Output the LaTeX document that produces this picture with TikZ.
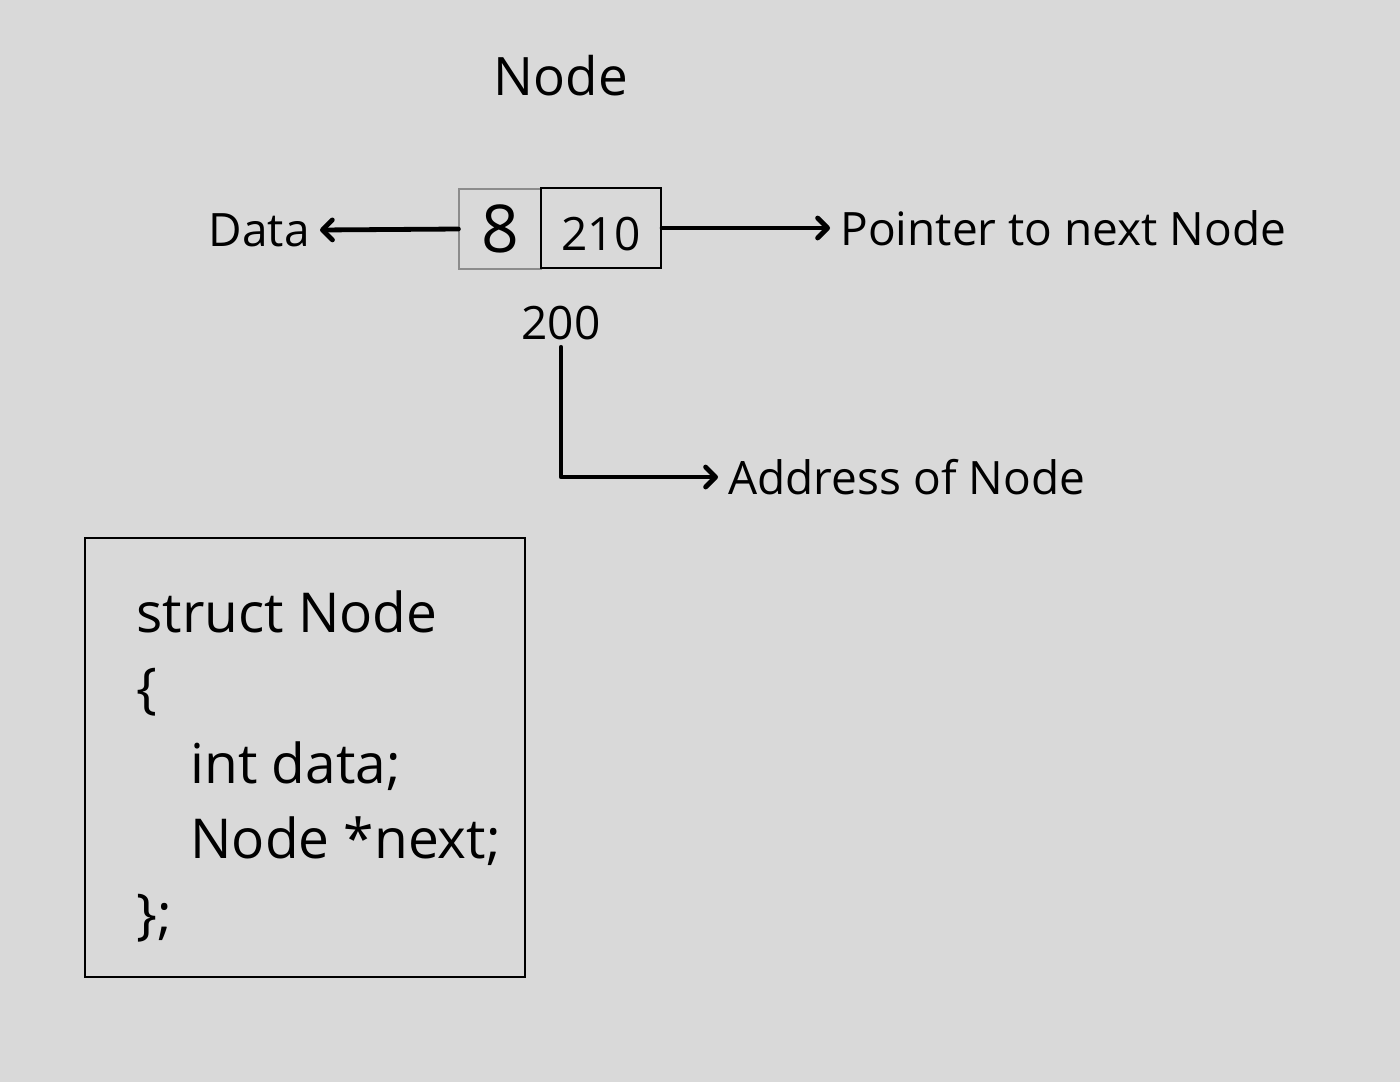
\documentclass[tikz,border=0pt]{standalone}
\usepackage{fontspec}
\setmainfont{Open Sans}
\usetikzlibrary{arrows.meta,positioning}
\definecolor{paper}{HTML}{D9D9D9}
\definecolor{ink}{HTML}{000000}
\definecolor{rim}{HTML}{8C8C8C}

\begin{document}
\begin{tikzpicture}[x=0.5pt,y=-0.5pt,
  lbl/.style={font=\fontsize{23}{27}\selectfont,color=ink,inner xsep=5pt,inner ysep=3.5pt},
  conn/.style={ink,line width=2.4pt,line cap=round,line join=round,
    -{Straight Barb[length=5pt,width=10pt,line cap=round,line join=round]}},
  cell/.style={inner sep=0pt,minimum height=40pt}]
  \fill[paper] (0,0) rectangle (1400,1082);
  \useasboundingbox (0,0) rectangle (1400,1082);

  % the node itself
  \node[font=\fontsize{26.5}{30}\selectfont] (title) at (561,76) {Node};
  \node[cell,draw=rim,line width=0.6pt,minimum width=41pt,font=\fontsize{33}{36}\selectfont] (val) at (500,229) {8};
  \node[cell,draw=ink,line width=1.1pt,minimum width=60pt,text height=22.5pt,text depth=0pt,
    font=\fontsize{23}{26}\selectfont] (nxt) at (601,228) {210};
  \node[lbl,anchor=east] (data) at (320,230) {Data};
  \node[lbl,anchor=west] (ptr) at (830,228) {Pointer to next Node};
  \node[lbl] (addr) at (561,323) {200};
  \node[lbl,anchor=west] (adr) at (718,477) {Address of Node};

  \draw[conn] (val.west) -- (data.east);
  \draw[conn] (nxt.east) -- (ptr.west);
  \draw[conn] (addr.south) |- (adr.west);

  % struct definition
  \node[draw=ink,line width=1.1pt,minimum width=220pt,minimum height=219.5pt] (code) at (305,757.5) {};
  \foreach \y/\x/\t [count=\i] in {632/136/struct Node,707/136/\{,783/190/int data;,858/190/Node *next;,933/136/\};} {
    \node[anchor=base west,inner sep=0pt,font=\fontsize{27.5}{32}\selectfont] (ln\i) at (\x,\y) {\t};
  }
\end{tikzpicture}
\end{document}
